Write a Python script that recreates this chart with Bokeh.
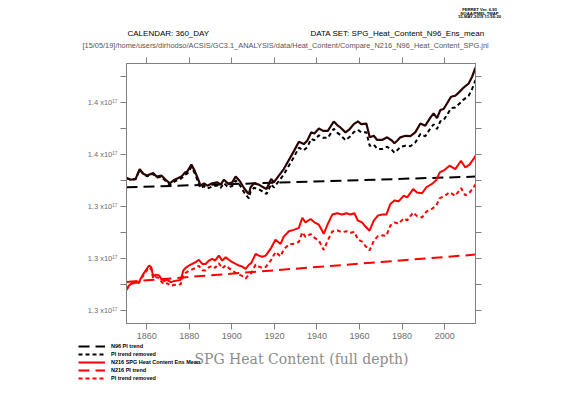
import numpy as np
from bokeh.plotting import figure
from bokeh.models import Range1d, FixedTicker, LinearAxis, Legend, LegendItem
from bokeh.core.properties import value
from bokeh.embed import file_html
from bokeh.resources import INLINE

# ---------------- data (values in units of 1e17) ----------------
n96_years = [1850.5, 1852.5, 1854.8, 1856.7, 1858.5, 1860.3, 1863.0, 1864.7, 1866.9, 1868.9,
             1870.9, 1872.8, 1874.4, 1876.3, 1878.0, 1879.1, 1881.0, 1882.5, 1884.1, 1885.3,
             1886.9, 1888.5, 1890.8, 1893.2, 1894.7, 1896.3, 1898.3, 1900.2, 1901.8, 1903.8,
             1905.7, 1907.3, 1908.0, 1908.8, 1910.4, 1912.7, 1914.3, 1916.3, 1918.5, 1919.7,
             1922.1, 1924.4, 1926.8, 1929.1, 1931.5, 1933.8, 1935.4, 1937.3, 1938.8, 1940.9,
             1942.9, 1945.1, 1947.9, 1949.5, 1951.0, 1953.4, 1955.4, 1957.3, 1959.2, 1960.8,
             1963.2, 1964.8, 1966.7, 1968.3, 1970.6, 1973.0, 1975.3, 1976.4, 1977.7, 1979.2,
             1981.6, 1983.9, 1986.2, 1988.6, 1990.9, 1993.3, 1994.8, 1996.4, 1998.0, 1999.5,
             2001.1, 2003.0, 2005.0, 2006.6, 2008.6, 2011.3, 2012.9, 2014.5]
n96_mean = [1.3510, 1.3503, 1.3506, 1.3544, 1.3525, 1.3519, 1.3529, 1.3515, 1.3519, 1.3503,
            1.3489, 1.3502, 1.3508, 1.3515, 1.3531, 1.3535, 1.3561, 1.3538, 1.3506, 1.3480,
            1.3489, 1.3480, 1.3489, 1.3493, 1.3484, 1.3503, 1.3487, 1.3493, 1.3515, 1.3497,
            1.3471, 1.3454, 1.3448, 1.3474, 1.3489, 1.3484, 1.3476, 1.3467, 1.3506, 1.3493,
            1.3519, 1.3544, 1.3579, 1.3612, 1.3649, 1.3640, 1.3653, 1.3685, 1.3681, 1.3700,
            1.3691, 1.3691, 1.3727, 1.3713, 1.3704, 1.3685, 1.3698, 1.3717, 1.3727, 1.3717,
            1.3719, 1.3666, 1.3672, 1.3656, 1.3656, 1.3666, 1.3653, 1.3643, 1.3653, 1.3666,
            1.3672, 1.3671, 1.3685, 1.3719, 1.3711, 1.3742, 1.3758, 1.3740, 1.3771, 1.3775,
            1.3796, 1.3822, 1.3826, 1.3838, 1.3855, 1.3873, 1.3899, 1.3934]
n96_detrended = [1.3510, 1.3502, 1.3505, 1.3542, 1.3523, 1.3516, 1.3525, 1.3511, 1.3514, 1.3498,
                 1.3483, 1.3495, 1.3501, 1.3508, 1.3523, 1.3527, 1.3552, 1.3529, 1.3496, 1.3470,
                 1.3478, 1.3469, 1.3477, 1.3481, 1.3471, 1.3490, 1.3473, 1.3479, 1.3500, 1.3482,
                 1.3455, 1.3438, 1.3431, 1.3457, 1.3472, 1.3466, 1.3458, 1.3448, 1.3486, 1.3473,
                 1.3498, 1.3523, 1.3557, 1.3589, 1.3626, 1.3616, 1.3628, 1.3660, 1.3655, 1.3674,
                 1.3664, 1.3664, 1.3699, 1.3684, 1.3675, 1.3655, 1.3668, 1.3686, 1.3695, 1.3685,
                 1.3686, 1.3633, 1.3638, 1.3622, 1.3621, 1.3630, 1.3617, 1.3607, 1.3616, 1.3629,
                 1.3634, 1.3632, 1.3646, 1.3679, 1.3670, 1.3701, 1.3716, 1.3698, 1.3728, 1.3732,
                 1.3752, 1.3778, 1.3781, 1.3793, 1.3809, 1.3826, 1.3852, 1.3886]

n216_years = [1850.5, 1851.7, 1853.3, 1855.3, 1856.4, 1858.0, 1859.5, 1861.1, 1862.2, 1863.0,
              1864.2, 1865.8, 1866.9, 1868.1, 1869.7, 1871.3, 1872.8, 1874.4, 1876.0, 1877.2,
              1878.3, 1879.9, 1881.4, 1883.0, 1884.5, 1886.1, 1887.7, 1889.2, 1890.8, 1892.1,
              1893.9, 1895.5, 1897.1, 1898.6, 1900.2, 1901.8, 1903.3, 1904.9, 1906.5, 1908.0,
              1909.1, 1911.2, 1912.7, 1914.3, 1915.9, 1918.5, 1920.5, 1922.9, 1924.4, 1926.8,
              1929.1, 1931.5, 1933.1, 1934.6, 1937.0, 1938.8, 1940.9, 1943.2, 1945.1, 1947.2,
              1949.5, 1951.8, 1953.9, 1955.7, 1957.6, 1959.2, 1961.2, 1962.8, 1964.7, 1966.7,
              1968.6, 1970.6, 1972.6, 1974.5, 1976.4, 1978.4, 1980.8, 1982.4, 1985.2, 1987.0,
              1989.4, 1991.4, 1994.1, 1996.1, 1997.7, 1999.9, 2002.3, 2005.0, 2007.7, 2009.7,
              2011.7, 2013.6, 2014.5]
n216_mean = [1.3080, 1.3096, 1.3107, 1.3107, 1.3111, 1.3135, 1.3154, 1.3173, 1.3166, 1.3131,
             1.3138, 1.3135, 1.3122, 1.3113, 1.3118, 1.3109, 1.3113, 1.3115, 1.3118, 1.3154,
             1.3164, 1.3173, 1.3179, 1.3186, 1.3195, 1.3179, 1.3179, 1.3192, 1.3199, 1.3192,
             1.3211, 1.3192, 1.3205, 1.3195, 1.3186, 1.3179, 1.3173, 1.3169, 1.3160, 1.3176,
             1.3182, 1.3218, 1.3211, 1.3207, 1.3211, 1.3241, 1.3272, 1.3256, 1.3284, 1.3305,
             1.3310, 1.3318, 1.3356, 1.3339, 1.3352, 1.3339, 1.3330, 1.3295, 1.3333, 1.3369,
             1.3374, 1.3369, 1.3374, 1.3369, 1.3374, 1.3346, 1.3339, 1.3323, 1.3307, 1.3346,
             1.3365, 1.3369, 1.3369, 1.3410, 1.3423, 1.3420, 1.3442, 1.3435, 1.3467, 1.3454,
             1.3451, 1.3474, 1.3487, 1.3502, 1.3531, 1.3540, 1.3557, 1.3544, 1.3576, 1.3550,
             1.3561, 1.3583, 1.3595]
n216_detrended = [1.3080, 1.3095, 1.3105, 1.3104, 1.3107, 1.3130, 1.3148, 1.3166, 1.3158, 1.3123,
                  1.3129, 1.3125, 1.3111, 1.3101, 1.3105, 1.3095, 1.3098, 1.3099, 1.3101, 1.3136,
                  1.3145, 1.3153, 1.3158, 1.3164, 1.3172, 1.3155, 1.3154, 1.3166, 1.3172, 1.3164,
                  1.3182, 1.3162, 1.3174, 1.3163, 1.3153, 1.3145, 1.3138, 1.3133, 1.3123, 1.3138,
                  1.3143, 1.3177, 1.3169, 1.3164, 1.3167, 1.3195, 1.3225, 1.3208, 1.3235, 1.3254,
                  1.3257, 1.3264, 1.3301, 1.3283, 1.3294, 1.3280, 1.3269, 1.3233, 1.3270, 1.3304,
                  1.3308, 1.3301, 1.3305, 1.3299, 1.3302, 1.3273, 1.3265, 1.3248, 1.3231, 1.3268,
                  1.3286, 1.3289, 1.3287, 1.3327, 1.3339, 1.3334, 1.3355, 1.3347, 1.3377, 1.3363,
                  1.3358, 1.3380, 1.3391, 1.3404, 1.3432, 1.3440, 1.3455, 1.3441, 1.3471, 1.3443,
                  1.3453, 1.3474, 1.3485]

trend_years = [1850.5, 2014.5]
n96_trend = [1.3474, 1.3515]
n216_trend = [1.3110, 1.3215]

x_ticks = [1860, 1880, 1900, 1920, 1940, 1960, 1980, 2000]
y_major_ticks = [1.30, 1.32, 1.34, 1.36, 1.38]
y_minor_ticks = [1.31, 1.33, 1.35, 1.37, 1.39]
y_tick_labels = ["1.3 x10\u00b9\u2077", "1.3 x10\u00b9\u2077", "1.3 x10\u00b9\u2077",
                 "1.4 x10\u00b9\u2077", "1.4 x10\u00b9\u2077"]

legend_labels = ["N96 PI trend", "PI trend removed", "N216 SPG Heat Content Ens Mean",
                 "N216 PI trend", "PI trend removed"]

title_text = "SPG Heat Content (full depth)"
calendar_text = "CALENDAR: 360_DAY"
dataset_text = "DATA SET: SPG_Heat_Content_N96_Ens_mean"
path_text = "[15/05/19]/home/users/dirhodso/ACSIS/GC3.1_ANALYSIS/data/Heat_Content/Compare_N216_N96_Heat_Content_SPG.jnl"
ferret_lines = ["FERRET Ver. 6.93", "NOAA/PMEL TMAP", "15-MAY-2019 11:56:20"]

W = 555
HEAD_H, MAIN_H = 53, 290
FOOT_H = 397 - HEAD_H - MAIN_H


def blank(height):
    f = figure(width=W, height=height, x_range=Range1d(0, W), y_range=Range1d(height, 0),
               output_backend="svg", toolbar_location=None,
               x_axis_location=None, y_axis_location=None,
               min_border=0, min_border_left=0, min_border_right=0,
               min_border_top=0, min_border_bottom=0)
    f.grid.visible = False
    f.outline_line_color = None
    f.background_fill_color = "white"
    f.border_fill_color = "white"
    return f


# ---------------- header (page pixels, y downward) ----------------
head = blank(HEAD_H)
head.text(x=[127, 310], y=[33, 33], text=[calendar_text, dataset_text],
          text_font=value("Liberation Sans"), text_font_size="8px",
          text_color="black", text_baseline="middle", text_align="left")
head.text(x=[82], y=[45], text=[path_text], text_font=value("Liberation Sans"),
          text_font_size="7.4px", text_color="#555555", text_baseline="middle")
head.text(x=[479, 479, 479], y=[9, 12.7, 16.4], text=ferret_lines,
          text_font=value("Liberation Sans"), text_font_size="4.2px", text_font_style="bold",
          text_color="black", text_baseline="middle", text_align="center")

# ---------------- main plot ----------------
p = figure(width=W, height=MAIN_H,
           x_range=Range1d(1850.5, 2014.5), y_range=Range1d(1.295, 1.395),
           output_backend="svg", toolbar_location=None,
           min_border_left=126, min_border_right=W - 475, min_border_top=10, min_border_bottom=20)
p.grid.visible = False
p.outline_line_color = "#808080"
p.background_fill_color = "white"
p.border_fill_color = "white"

p.add_layout(LinearAxis(), "above")
p.add_layout(LinearAxis(), "right")

axis_grey = "#808080"
for ax in p.xaxis:
    ax.ticker = FixedTicker(ticks=x_ticks)
for ax in p.yaxis:
    ax.ticker = FixedTicker(ticks=y_major_ticks, minor_ticks=y_minor_ticks)
for ax in list(p.xaxis) + list(p.yaxis):
    ax.axis_line_color = axis_grey
    ax.major_tick_line_color = axis_grey
    ax.minor_tick_line_color = axis_grey
    ax.major_tick_out = 6
    ax.major_tick_in = 0
    ax.minor_tick_out = 6
    ax.minor_tick_in = 0
    ax.major_label_text_color = "#6e6e6e"
    ax.major_label_text_font = "Liberation Sans"

p.below[0].major_label_text_font_size = "9px"
p.below[0].major_label_standoff = 3
p.left[0].major_label_text_font_size = "7.5px"
p.left[0].major_label_standoff = 3
p.left[0].major_label_overrides = {t: lab for t, lab in zip(y_major_ticks, y_tick_labels)}
for ax in (p.above[0], p.right[0]):
    ax.major_label_text_font_size = "0px"
    ax.major_label_text_color = None
    ax.major_label_standoff = 0

styles = {
    "n96_trend": dict(line_color="black", line_width=2, line_dash="11 6"),
    "n96_det": dict(line_color="black", line_width=2, line_dash="4 3"),
    "n216": dict(line_color="#ff0000", line_width=2),
    "n216_trend": dict(line_color="#ff0000", line_width=2, line_dash="11 6"),
    "n216_det": dict(line_color="#ff0000", line_width=2, line_dash="4 3"),
}

p.line(trend_years, n96_trend, **styles["n96_trend"])
p.line(trend_years, n216_trend, **styles["n216_trend"])
p.line(n96_years, n96_detrended, **styles["n96_det"])
p.line(n216_years, n216_detrended, **styles["n216_det"])
p.line(n96_years, n96_mean, line_color="#2a0404", line_width=2.2)
p.line(n216_years, n216_mean, **styles["n216"])

# ---------------- footer: legend + title ----------------
foot = blank(FOOT_H)
keys = ["n96_trend", "n96_det", "n216", "n216_trend", "n216_det"]
items = []
for k, lab in zip(keys, legend_labels):
    # legend-only renderer: a single undefined point, so only its legend sample is drawn
    rr = foot.line(np.array([np.nan]), np.array([np.nan]), **styles[k])
    items.append(LegendItem(label=lab, renderers=[rr]))
legend = Legend(items=items, location=(78, FOOT_H - 40 + 1.3), glyph_width=27, glyph_height=8,
                label_height=8, label_standoff=6, spacing=0, padding=0, margin=0,
                label_text_font_size="5.5px", label_text_font_style="bold",
                label_text_font="Liberation Sans", label_text_color="black",
                border_line_color=None, background_fill_alpha=0)
foot.add_layout(legend)
foot.text(x=[301], y=[358 - (HEAD_H + MAIN_H)], text=[title_text], text_font=value("DejaVu Serif"),
          text_font_size="14px", text_color="#8c8c8c", text_align="center",
          text_baseline="middle")

open("out.html", "w").write(file_html([head, p, foot], INLINE))
